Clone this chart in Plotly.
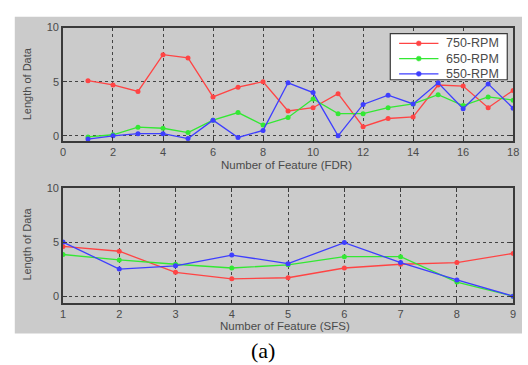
import plotly.graph_objects as go

W, H = 528, 365

# Feature counts for the two selection methods
fdr_x = list(range(1, 19))
sfs_x = list(range(1, 10))

# Length of data per feature, FDR ranking
fdr_750 = [5.1, 4.7, 4.1, 7.5, 7.2, 3.6, 4.5, 5.0, 2.3, 2.6, 3.9, 0.85, 1.6, 1.75, 4.7, 4.6, 2.6, 4.2]
fdr_650 = [-0.1, 0.1, 0.8, 0.7, 0.3, 1.45, 2.15, 1.0, 1.7, 3.4, 2.05, 2.05, 2.6, 2.95, 3.8, 2.8, 3.6, 3.3]
fdr_550 = [-0.3, 0.0, 0.2, 0.2, -0.25, 1.45, -0.15, 0.5, 4.9, 4.0, 0.0, 2.9, 3.75, 2.95, 4.9, 2.5, 4.8, 2.55]

# Length of data per feature, SFS ranking
sfs_750 = [4.6, 4.15, 2.2, 1.6, 1.7, 2.6, 2.95, 3.1, 3.95]
sfs_650 = [3.85, 3.35, 2.95, 2.6, 2.9, 3.65, 3.65, 1.3, 0.0]
sfs_550 = [5.0, 2.5, 2.8, 3.8, 3.0, 4.95, 3.1, 1.5, 0.0]

series_names = ["750-RPM", "650-RPM", "550-RPM"]
colors = ["#ff4444", "#33e833", "#3e3eff"]

fdr_ticks = list(range(0, 19, 2))
sfs_ticks = list(range(1, 10))
y_ticks = [0, 5, 10]

fig = go.Figure()

for name, col, ys in zip(series_names, colors, [fdr_750, fdr_650, fdr_550]):
    fig.add_trace(go.Scatter(x=fdr_x, y=ys, name=name, mode="lines+markers",
                             line=dict(color=col, width=1.3),
                             marker=dict(color=col, size=5),
                             xaxis="x", yaxis="y", showlegend=False))
for name, col, ys in zip(series_names, colors, [sfs_750, sfs_650, sfs_550]):
    fig.add_trace(go.Scatter(x=sfs_x, y=ys, name=name, mode="lines+markers",
                             line=dict(color=col, width=1.3),
                             marker=dict(color=col, size=5),
                             xaxis="x2", yaxis="y2", showlegend=False))

tick_font = dict(family="Liberation Sans, Arial", size=11, color="#4a4a4a")
axis_common = dict(showline=True, mirror="ticks", linecolor="#3a3a3a", linewidth=1.5,
                   ticks="inside", ticklen=4, tickcolor="#3a3a3a",
                   showgrid=True, gridcolor="#444444", griddash="dot", gridwidth=1,
                   zeroline=False, tickfont=tick_font)

def px_x(p):
    return p / W

def px_y(p):
    return 1 - p / H

fig.update_layout(
    width=W, height=H,
    margin=dict(l=0, r=0, t=0, b=0),
    paper_bgcolor="white",
    plot_bgcolor="white",
    showlegend=False,
    xaxis=dict(domain=[px_x(61), px_x(519)], range=[0, 18], tickvals=fdr_ticks,
               anchor="y", **axis_common),
    yaxis=dict(domain=[px_y(137.5), px_y(22)], range=[-0.5, 10], tickvals=y_ticks,
               anchor="x", **axis_common),
    xaxis2=dict(domain=[px_x(61), px_x(519)], range=[1, 9], tickvals=sfs_ticks,
                anchor="y2", **axis_common),
    yaxis2=dict(domain=[px_y(301.6), px_y(185)], range=[-0.6, 10], tickvals=y_ticks,
                anchor="x2", **axis_common),
)

# grey figure panel behind both axes
fig.add_shape(type="rect", xref="paper", yref="paper",
              x0=px_x(12), x1=1, y0=px_y(333), y1=px_y(11),
              fillcolor="#cbcbcb", line=dict(width=0), layer="below")

# compact boxed legend in the upper-right corner of the FDR panel
leg_left, leg_top, leg_right, leg_bottom = 394, 28, 513, 75
fig.add_shape(type="rect", xref="paper", yref="paper", layer="above",
              x0=px_x(leg_left), x1=px_x(leg_right), y0=px_y(leg_bottom), y1=px_y(leg_top),
              fillcolor="white", line=dict(color="#3a3a3a", width=1.2))
legend_font = dict(family="Liberation Sans, Arial", size=12.5, color="#4a4a4a")
for i, (name, col) in enumerate(zip(series_names, colors)):
    row_y = leg_top + 10 + i * 15.5
    fig.add_shape(type="line", xref="paper", yref="paper", layer="above",
                  x0=px_x(leg_left + 9), x1=px_x(leg_left + 49),
                  y0=px_y(row_y), y1=px_y(row_y), line=dict(color=col, width=1.3))
    fig.add_shape(type="circle", xref="paper", yref="paper", layer="above",
                  x0=px_x(leg_left + 26.5), x1=px_x(leg_left + 31.5),
                  y0=px_y(row_y + 2.5), y1=px_y(row_y - 2.5),
                  fillcolor=col, line=dict(color=col, width=0.5))
    fig.add_annotation(text=name, xref="paper", yref="paper", showarrow=False,
                       x=px_x(leg_left + 55), y=px_y(row_y), xanchor="left", yanchor="middle",
                       font=legend_font)

label_font = dict(family="Liberation Sans, Arial", size=11.5, color="#4a4a4a")
ylabel_font = dict(family="Liberation Sans, Arial", size=11, color="#4a4a4a")

annotations = [
    dict(text="Number of Feature (FDR)", x=px_x(288), y=px_y(162), font=label_font),
    dict(text="Number of Feature (SFS)", x=px_x(287), y=px_y(325), font=label_font),
    dict(text="Length of Data", x=px_x(24), y=px_y(79), textangle=-90, font=ylabel_font),
    dict(text="Length of Data", x=px_x(24), y=px_y(242), textangle=-90, font=ylabel_font),
    dict(text="(a)", x=px_x(264), y=px_y(350),
         font=dict(family="Liberation Serif, Times New Roman", size=22, color="black")),
]
for a in annotations:
    fig.add_annotation(xref="paper", yref="paper", xanchor="center", yanchor="middle",
                       showarrow=False, **a)

fig.write_html("out.html")
